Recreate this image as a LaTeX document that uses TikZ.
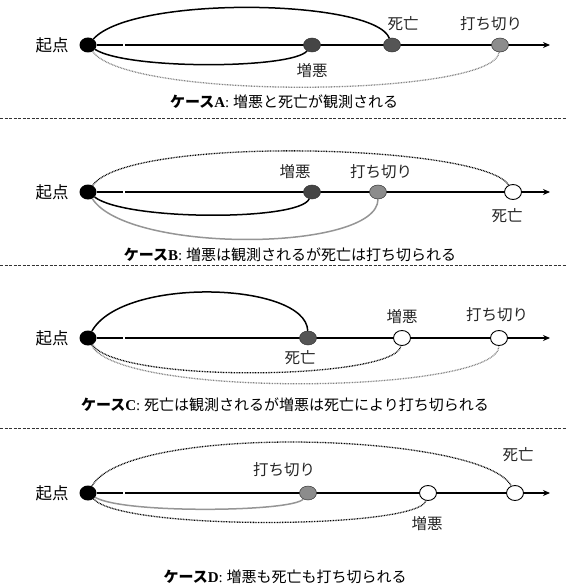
\documentclass[tikz,border=0pt]{standalone}
\usepackage{fontspec}
\setmainfont{Liberation Serif}
\newfontfamily\cjk{Noto Sans CJK JP}
\usetikzlibrary{arrows.meta,shapes.geometric,backgrounds}
\definecolor{dkdot}{HTML}{454545}
\definecolor{mddot}{HTML}{555555}
\definecolor{ltdot}{HTML}{8C8C8C}
\definecolor{arcgray}{HTML}{959595}
\definecolor{dotgray}{HTML}{808080}
\tikzset{
  startdot/.style={ellipse,fill=black,minimum width=17pt,minimum height=15pt,inner sep=0pt},
  evdot/.style={ellipse,draw=black!80,line width=0.5pt,minimum width=17pt,minimum height=14pt,inner sep=0pt},
  opendot/.style={ellipse,draw=black,fill=white,line width=0.9pt,minimum width=17pt,minimum height=15pt,inner sep=0pt},
  timeaxis/.style={line width=1.5pt,-{Stealth[length=7pt,width=6pt]}},
  solidarc/.style={line width=1.5pt,black},
  dotarc/.style={line width=1.3pt,black,dash pattern=on 0.8pt off 0.8pt},
  grayline/.style={line width=1.5pt,arcgray},
  graydotarc/.style={line width=1.3pt,dotgray,dash pattern=on 0.8pt off 0.8pt},
  lab/.style={font=\cjk\fontsize{15.5}{16}\selectfont,inner sep=0pt,text=black!85},
  startlab/.style={font=\cjk\fontsize{16.5}{17}\selectfont,inner sep=0pt},
  caption/.style={font=\fontsize{15}{15}\selectfont,inner sep=0pt},
  separator/.style={line width=0.8pt,black!80,dash pattern=on 3pt off 1.5pt}
}
\begin{document}
\begin{tikzpicture}[x=1pt,y=-1pt]
\useasboundingbox (0,0) rectangle (566,586);
% ---------- Case A ----------
\node[startlab] (Alab) at (52,45) {起点};
\node[startdot] (A0) at (88,45) {};
\node[evdot,fill=dkdot] (A1) at (312,45) {};
\node[evdot,fill=mddot] (A2) at (392,45) {};
\node[evdot,fill=ltdot] (A3) at (500,45) {};
\coordinate (AE) at (550,45);
\node[lab] at (403,24) {死亡};
\node[lab] at (491,24) {打ち切り};
\node[lab] at (312,71) {増悪};
\begin{scope}[on background layer]
\draw[timeaxis] (A0) -- (AE);
\draw[solidarc] (A0) .. controls +(45,-50) and +(-18,-46) .. (A2);
\draw[solidarc] (A0) .. controls +(40,25) and +(-20,24) .. (A1);
\draw[graydotarc] (A0) .. controls +(40,56) and +(-6,52) .. (A3);
\end{scope}
\draw[white,line width=1.8pt] (123,45) -- (124.5,45);
\node[caption] (Acap) at (284,102) {{\cjk\bfseries ケース}\textbf{A}: {\cjk 増悪と死亡が観測される}};
\draw[separator] (0,118) -- (566,118);
% ---------- Case B ----------
\node[startlab] (Blab) at (52,192) {起点};
\node[startdot] (B0) at (88,192) {};
\node[evdot,fill=dkdot] (B1) at (312,192) {};
\node[evdot,fill=ltdot] (B2) at (378,192) {};
\node[opendot] (B3) at (513,192) {};
\coordinate (BE) at (550,192);
\node[lab] at (295,172) {増悪};
\node[lab] at (381,172) {打ち切り};
\node[lab] at (507,216) {死亡};
\begin{scope}[on background layer]
\draw[timeaxis] (B0) -- (BE);
\draw[dotarc] (B0) .. controls +(40,-57) and +(-30,-48) .. (B3);
\draw[solidarc] (B0) .. controls +(38,29) and +(-12,29) .. (B1);
\draw[grayline] (B0) .. controls +(40,62) and +(0,60) .. (B2);
\end{scope}
\draw[white,line width=1.8pt] (123,192) -- (124.5,192);
\node[caption] (Bcap) at (290,255) {{\cjk\bfseries ケース}\textbf{B}: {\cjk 増悪は観測されるが死亡は打ち切られる}};
\draw[separator] (0,265) -- (566,265);
% ---------- Case C ----------
\node[startlab] (Clab) at (52,338) {起点};
\node[startdot] (C0) at (88,338) {};
\node[evdot,fill=mddot] (C1) at (308,338) {};
\node[opendot] (C2) at (402,338) {};
\node[opendot] (C3) at (499,338) {};
\coordinate (CE) at (550,338);
\node[lab] at (402,317) {増悪};
\node[lab] at (497,315) {打ち切り};
\node[lab] at (300,358) {死亡};
\begin{scope}[on background layer]
\draw[timeaxis] (C0) -- (CE);
\draw[solidarc] (C0) .. controls +(35,-62) and +(-2,-56) .. (C1);
\draw[dotarc] (C0) .. controls +(30,46) and +(-6,42) .. (C2);
\draw[graydotarc] (C0) .. controls +(30,61) and +(0,56) .. (C3);
\end{scope}
\draw[white,line width=1.8pt] (123,338) -- (124.5,338);
\node[caption] (Ccap) at (285,405) {{\cjk\bfseries ケース}\textbf{C}: {\cjk 死亡は観測されるが増悪は死亡により打ち切られる}};
\draw[separator] (0,428) -- (566,428);
% ---------- Case D ----------
\node[startlab] (Dlab) at (52,493) {起点};
\node[startdot] (D0) at (88,493) {};
\node[evdot,fill=ltdot] (D1) at (308,493) {};
\node[opendot] (D2) at (428,493) {};
\node[opendot] (D3) at (515,493) {};
\coordinate (DE) at (550,493);
\node[lab] at (284,470) {打ち切り};
\node[lab] at (518,455) {死亡};
\node[lab] at (427,524) {増悪};
\begin{scope}[on background layer]
\draw[timeaxis] (D0) -- (DE);
\draw[dotarc] (D0) .. controls +(40,-71) and +(-32,-60) .. (D3);
\draw[grayline] (D0) .. controls +(35,21) and +(-15,19) .. (D1);
\draw[dotarc] (D0) .. controls +(35,38) and +(-10,36) .. (D2);
\end{scope}
\draw[white,line width=1.8pt] (123,493) -- (124.5,493);
\node[caption] (Dcap) at (285,577) {{\cjk\bfseries ケース}\textbf{D}: {\cjk 増悪も死亡も打ち切られる}};
\end{tikzpicture}
\end{document}
